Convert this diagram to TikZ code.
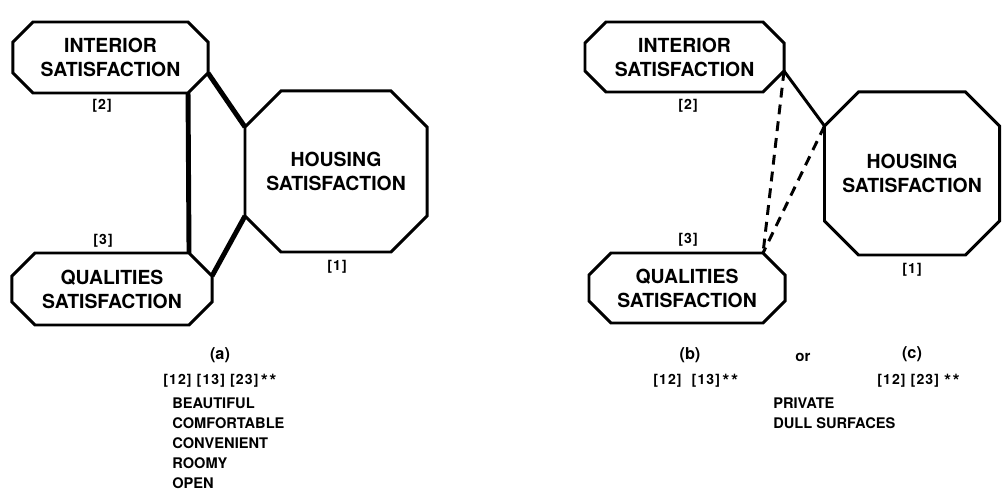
\documentclass[tikz,border=0pt]{standalone}
\usepackage{fontspec}
\setmainfont{TeX Gyre Heros}
\newfontfamily\tagfont[LetterSpace=8]{TeX Gyre Heros}
\newcommand\stars{\raisebox{-0.2em}{\fontsize{13}{13}\selectfont**}}
\newcommand\drawoct[2]{\draw [outline] ($(#1.north west)+(#2, 0)$) -- ($(#1.north east)+(-#2, 0)$) -- ($(#1.north east)+(0, #2)$) -- ($(#1.south east)+(0, -#2)$) -- ($(#1.south east)+(-#2, 0)$) -- ($(#1.south west)+(#2, 0)$) -- ($(#1.south west)+(0, -#2)$) -- ($(#1.north west)+(0, #2)$) -- cycle;}
\tikzset{box/.style = {inner sep = 0, outer sep = 0, align = center, font = \bfseries\fontsize{13.8}{17}\selectfont}}
\tikzset{outline/.style = {line width = 2.1pt, line join = miter}}
\tikzset{tag/.style = {font = \tagfont\bfseries\fontsize{10}{12}\selectfont, inner sep = 0}}
\tikzset{words/.style = {align = left, inner sep = 0, font = \bfseries\fontsize{10.4}{14.2}\selectfont}}
\tikzset{caption/.style = {inner sep = 0, font = \bfseries\fontsize{11.6}{14}\selectfont}}
\tikzset{link/.style = {line width = 3.5pt}}
\tikzset{thin link/.style = {line width = 2.1pt}}
\usetikzlibrary{calc}

\begin{document}
\begin{tikzpicture}[x = 0.025cm, y = -0.025cm]
    \useasboundingbox (0, 0) rectangle (1004, 497);
    % (a)
    \node [box, minimum width = 4.875cm, minimum height = 1.775cm] (intA) at (110.5, 57.5) {INTERIOR\\SATISFACTION};
    \node [box, minimum width = 4.55cm, minimum height = 4.025cm] (houA) at (336, 171.5) {HOUSING\\SATISFACTION};
    \node [box, minimum width = 5cm, minimum height = 1.8cm] (quaA) at (112, 289) {QUALITIES\\SATISFACTION};
    \drawoct{intA}{20}
    \drawoct{houA}{36}
    \drawoct{quaA}{23}
    \node [tag] (numA2) at (102, 106) {[2]};
    \node [tag] (numA3) at (103, 241) {[3]};
    \node [tag] (numA1) at (337, 267) {[1]};
    \draw [link] ($(intA.south east)+(-20, 0)$) -- ($(quaA.north east)+(-23, 0)$);
    \draw [link] ($(intA.south east)+(0, -20)$) -- ($(houA.north west)+(0, 36)$);
    \draw [link] ($(houA.south west)+(0, -36)$) -- ($(quaA.north east)+(0, 23)$);
    % (b) or (c)
    \node [box, minimum width = 4.975cm, minimum height = 1.75cm] (intB) at (684.5, 57) {INTERIOR\\SATISFACTION};
    \node [box, minimum width = 4.375cm, minimum height = 4.075cm] (houB) at (912, 173.5) {HOUSING\\SATISFACTION};
    \node [box, minimum width = 4.9cm, minimum height = 1.75cm] (quaB) at (687, 288) {QUALITIES\\SATISFACTION};
    \drawoct{intB}{21}
    \drawoct{houB}{34}
    \drawoct{quaB}{22}
    \node [tag] (numB2) at (688, 106) {[2]};
    \node [tag] (numB3) at (688, 240) {[3]};
    \node [tag] (numB1) at (912, 270) {[1]};
    \coordinate (cornI) at ($(intB.south east)+(0, -21)$);
    \coordinate (cornH) at ($(houB.north west)+(0, 34)$);
    \coordinate (cornQ) at ($(quaB.north east)+(-22, 0)$);
    \draw [thin link] (cornI) -- (cornH);
    \draw [thin link, dash pattern = on 7pt off 5pt] (cornI) -- (cornQ);
    \draw [thin link, dash pattern = on 7pt off 5pt] (cornH) -- (cornQ);
    % captions
    \node [caption] (capA) at (220, 355) {(a)};
    \node [tag, anchor = west] (pairA) at (163, 381) {[12] [13] [23]\,\stars};
    \node [words, anchor = west] (listA) at (172, 443) {BEAUTIFUL\\COMFORTABLE\\CONVENIENT\\ROOMY\\OPEN};
    \node [caption] (capB) at (690, 355) {(b)};
    \node [caption, font = \bfseries\fontsize{10.7}{13}\selectfont] (orBC) at (803, 357) {or};
    \node [caption] (capC) at (912, 354) {(c)};
    \node [tag, anchor = west] (pairB) at (653, 381) {[12]\ \ [13]\,\stars};
    \node [tag, anchor = west] (pairC) at (877, 381) {[12] [23] \stars};
    \node [words, anchor = west] (listBC) at (773, 413.5) {PRIVATE\\DULL SURFACES};
\end{tikzpicture}
\end{document}
